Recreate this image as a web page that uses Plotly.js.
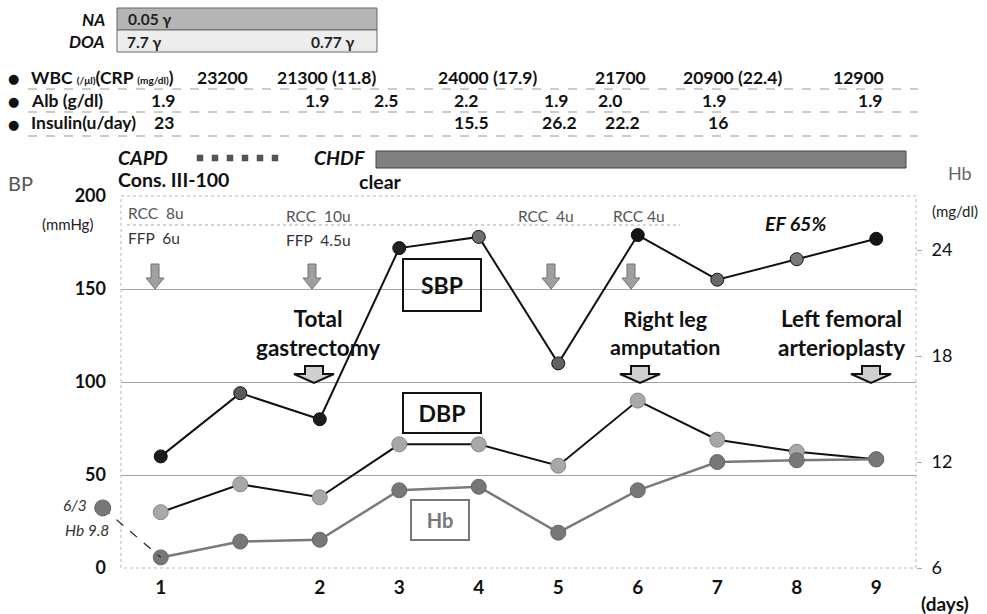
<!DOCTYPE html>
<html>
<head>
<meta charset="utf-8">
<script src="https://cdn.plot.ly/plotly-3.0.1.min.js"></script>
<style>html,body{margin:0;padding:0;background:#fff;}#chart{width:987px;height:614px;}</style>
</head>
<body>
<div id="chart"></div>
<script>
// ---------------- data ----------------
const dayPos = [0, 1, 2, 3, 4, 5, 6, 7, 8, 9];        // measurement slots (slot 1 is between day 1 and day 2)
const dayTickPos = [0, 2, 3, 4, 5, 6, 7, 8, 9];
const dayTickText = ['1', '2', '3', '4', '5', '6', '7', '8', '9'];
const sbp = [60, 94, 80, 172, 178, 110, 179, 155, 166, 177];
const dbp = [30, 45, 38, 66.5, 66.5, 55, 90, 69, 62.5, 58.5];
const hb  = [6.6, 7.5, 7.6, 10.4, 10.6, 8.0, 10.4, 12.0, 12.1, 12.15];
const preHbPos = -0.73;   // 6/3 measurement, left of the axis
const preHb = 9.4;
const sbpMarkerColors = ['#1a1a1a', '#5a5a5a', '#1e1e1e', '#222222', '#6e6e6e', '#626262', '#151515', '#6a6a6a', '#7a7a7a', '#151515'];

const wbcTexts = ['23200', '21300 (11.8)', '24000 (17.9)', '21700', '20900 (22.4)', '12900'];
const albTexts = ['1.9', '1.9', '2.5', '2.2', '1.9', '2.0', '1.9', '1.9'];
const insulinTexts = ['23', '15.5', '26.2', '22.2', '16'];

// ---------------- layout helpers (pixel -> paper) ----------------
const W = 987, H = 614, L = 40, R = 71, T = 196, B = 46;
const pw = W - L - R, ph = H - T - B;
const X = px => (px - L) / pw;
const Y = py => (H - B - py) / ph;
const plotLeft = 121, plotRight = 916;
const unitPx = (plotRight - plotLeft) / 10;
const x3min = -0.5 - (plotLeft - L) / unitPx;
const y2max = 6 + 21.06;

const FONT = 'Lato, "Open Sans", sans-serif';
function ann(text, px, py, size, color, xa, extra) {
  return Object.assign({
    xref: 'paper', yref: 'paper', x: X(px), y: Y(py), text: text, showarrow: false,
    xanchor: xa || 'center', yanchor: 'middle',
    font: {family: FONT, size: size, color: color || '#111'}
  }, extra || {});
}

// positions of table texts (pixels)
const wbcX = [222, 326, 487, 620, 732, 858];
const albX = [163, 317, 386, 466, 556, 610, 714, 870];
const insX = [164, 471, 559, 622, 718];

const annotations = [];
// NA / DOA table
annotations.push(ann('<b><i>NA</i></b>', 107, 19, 17, '#111', 'right'));
annotations.push(ann('<b><i>DOA</i></b>', 107, 42, 17, '#111', 'right'));
annotations.push(ann('<b>0.05 γ</b>', 126, 19, 15.5, '#222', 'left'));
annotations.push(ann('<b>7.7 γ</b>', 125, 42, 15.5, '#222', 'left'));
annotations.push(ann('<b>0.77 γ</b>', 309, 42, 15.5, '#222', 'left'));
// rows
[78, 101, 125].forEach(y => annotations.push(ann('●', 13, y, 15, '#111', 'center', {font: {family: '"DejaVu Sans"', size: 13, color: '#111'}})));
annotations.push(ann('<b>WBC <span style="font-size:10px">(/μl)</span>(CRP <span style="font-size:10px">(mg/dl)</span>)</b>', 29, 77, 17.5, '#111', 'left'));
annotations.push(ann('<b>Alb (g/dl)</b>', 29, 100, 17.5, '#111', 'left'));
annotations.push(ann('<b>Insulin(u/day)</b>', 29, 123, 17.5, '#111', 'left'));
wbcTexts.forEach((t, i) => annotations.push(ann('<b>' + t + '</b>', wbcX[i], 77, 17.5, '#111')));
albTexts.forEach((t, i) => annotations.push(ann('<b>' + t + '</b>', albX[i], 100, 17.5, '#111')));
insulinTexts.forEach((t, i) => annotations.push(ann('<b>' + t + '</b>', insX[i], 123, 17.5, '#111')));
// dialysis
annotations.push(ann('<b><i>CAPD</i></b>', 116, 157, 19.5, '#111', 'left'));
annotations.push(ann('<b><i>CHDF</i></b>', 312, 157, 19.5, '#111', 'left'));
annotations.push(ann('<b>Cons. III-100</b>', 116, 179, 19.5, '#111', 'left'));
annotations.push(ann('<b>clear</b>', 357, 181, 19.5, '#111', 'left'));
// axis titles
annotations.push(ann('BP', 20, 183, 20, '#555'));
annotations.push(ann('(mmHg)', 67, 224, 15, '#222'));
annotations.push(ann('Hb', 960, 173, 18, '#666'));
annotations.push(ann('(mg/dl)', 955, 211, 15, '#222'));
annotations.push(ann('<b>(days)</b>', 945, 603, 19, '#111'));
// transfusions
const nb = '\u00a0';
annotations.push(ann('RCC' + nb + nb + '8u', 126, 213, 15.5, '#555', 'left'));
annotations.push(ann('FFP' + nb + nb + '6u', 126, 238, 15.5, '#333', 'left'));
annotations.push(ann('RCC' + nb + nb + '10u', 284, 216, 15.5, '#555', 'left'));
annotations.push(ann('FFP' + nb + nb + '4.5u', 284, 240, 15.5, '#333', 'left'));
annotations.push(ann('RCC' + nb + nb + '4u', 516, 216, 15.5, '#555', 'left'));
annotations.push(ann('RCC' + nb + '4u', 611, 216, 15.5, '#555', 'left'));
annotations.push(ann('<b><i>EF 65%</i></b>', 795, 223, 19.5, '#111'));
// surgeries
annotations.push(ann('<b>Total<br>gastrectomy</b>', 318, 333, 22.5, '#111'));
annotations.push(ann('<b>Right leg<br>amputation</b>', 665, 333, 21.5, '#111'));
annotations.push(ann('<b>Left femoral<br>arterioplasty</b>', 841, 333, 22.5, '#111'));
// series labels
annotations.push(ann('<b>SBP</b>', 442, 285, 23, '#111', 'center', {bordercolor: '#111', borderwidth: 2, width: 74, height: 48}));
annotations.push(ann('<b>DBP</b>', 442, 413, 23, '#111', 'center', {bordercolor: '#111', borderwidth: 2, width: 74, height: 36}));
annotations.push(ann('<b>Hb</b>', 440, 520, 20, '#777', 'center', {bordercolor: '#777', borderwidth: 2, width: 54, height: 36}));
// 6/3 label
annotations.push(ann('<i>6/3</i>', 89, 505, 15.5, '#333', 'right'));
annotations.push(ann('<i>Hb 9.8</i>', 111, 530, 15.5, '#333', 'right'));

// ---------------- shapes ----------------
const shapes = [];
function rect(x0, y0, x1, y1, fill, line, lw, dash) {
  shapes.push({type: 'rect', xref: 'paper', yref: 'paper', x0: X(x0), x1: X(x1), y0: Y(y0), y1: Y(y1),
    fillcolor: fill, line: {color: line, width: lw, dash: dash || 'solid'}, layer: 'below'});
}
function hline(x0, x1, y, color, dash) {
  shapes.push({type: 'line', xref: 'paper', yref: 'paper', x0: X(x0), x1: X(x1), y0: Y(y), y1: Y(y),
    line: {color: color, width: 1, dash: dash}});
}
rect(117, 8, 377, 30, '#b5b5b5', '#666', 1);
rect(117, 30, 377, 52, '#ededed', '#666', 1);
rect(376, 151, 906, 168, '#808080', '#444', 1);
hline(28, 918, 89, '#999', 'dash');
hline(28, 918, 112, '#999', 'dash');
hline(28, 918, 136, '#999', 'dash');
hline(127, 680, 225, '#aaa', 'dot');
rect(plotLeft, 196, plotRight, 568, 'rgba(0,0,0,0)', '#b8b8b8', 1, 'dot');
// CAPD dotted line made of small squares
[200, 215, 230, 245, 260, 275].forEach(cx => rect(cx - 3, 155, cx + 3, 161, '#555', '#444', 0.5));

function arrowShape(cx, ty, path, fill, line, lw) {
  shapes.push({type: 'path', xref: 'paper', yref: 'paper', xsizemode: 'pixel', ysizemode: 'pixel',
    xanchor: X(cx), yanchor: Y(ty), path: path, fillcolor: fill, line: {color: line, width: lw}, layer: 'above'});
}
const thinArrow = 'M -4,0 L 4,0 L 4,-14 L 9,-14 L 0,-25 L -9,-14 L -4,-14 Z';
const blockArrow = 'M -9,0 L 9,0 L 9,-8 L 20,-8 L 0,-17 L -20,-8 L -9,-8 Z';
[155, 312, 551, 631].forEach(cx => arrowShape(cx, 264, thinArrow, '#a0a0a0', '#707070', 1));
[314, 640, 871].forEach(cx => arrowShape(cx, 366, blockArrow, '#cfcfcf', '#111', 2));

// ---------------- traces ----------------
const traces = [
  {x: [preHbPos, dayPos[0]], y: [preHb, hb[0]], xaxis: 'x3', yaxis: 'y3', mode: 'lines',
   line: {color: '#222', width: 1.2, dash: 'dash'}, hoverinfo: 'skip'},
  {x: [preHbPos], y: [preHb], xaxis: 'x3', yaxis: 'y3', mode: 'markers', cliponaxis: false,
   marker: {size: 16, color: '#777', line: {color: '#666', width: 1}}},
  {x: dayPos, y: hb, xaxis: 'x', yaxis: 'y2', mode: 'lines+markers', name: 'Hb',
   line: {color: '#7a7a7a', width: 2.5}, marker: {size: 15, color: '#777', line: {color: '#666', width: 1}}},
  {x: dayPos, y: dbp, xaxis: 'x', yaxis: 'y', mode: 'lines+markers', name: 'DBP',
   line: {color: '#111', width: 2}, marker: {size: 15, color: '#a8a8a8', line: {color: '#888', width: 1}}},
  {x: dayPos, y: sbp, xaxis: 'x', yaxis: 'y', mode: 'lines+markers', name: 'SBP',
   line: {color: '#111', width: 2}, marker: {size: 13, color: sbpMarkerColors, line: {color: '#111', width: 1}}}
];

const layout = {
  width: W, height: H, margin: {l: L, r: R, t: T, b: B},
  paper_bgcolor: '#fff', plot_bgcolor: 'rgba(0,0,0,0)', showlegend: false,
  font: {family: FONT, color: '#111'},
  xaxis: {domain: [X(plotLeft), 1], range: [-0.5, 9.5], anchor: 'y', tickvals: dayTickPos, ticktext: dayTickText,
    showgrid: false, zeroline: false, showline: false, ticks: '', ticklabelstandoff: 6,
    tickfont: {family: FONT, size: 19, color: '#111', weight: 'bold'}},
  yaxis: {domain: [0, 1], range: [0, 200], tickvals: [0, 50, 100, 150, 200], anchor: 'x',
    showgrid: true, gridcolor: '#a3a3a3', gridwidth: 1, zeroline: false, showline: false, ticks: '', ticklabelstandoff: 14,
    tickfont: {family: FONT, size: 18, color: '#111', weight: 'bold'}},
  yaxis2: {overlaying: 'y', side: 'right', anchor: 'x', range: [6, y2max], tickvals: [6, 12, 18, 24],
    showgrid: false, zeroline: false, showline: false, ticks: 'outside', ticklen: 5, tickcolor: '#aaa',
    ticklabelstandoff: 6, tickfont: {family: FONT, size: 18, color: '#111'}},
  xaxis3: {domain: [0, 1], range: [x3min, 9.5], anchor: 'y3', visible: false},
  yaxis3: {domain: [0, 1], range: [6, y2max], anchor: 'x3', visible: false},
  annotations: annotations, shapes: shapes
};

Plotly.newPlot('chart', traces, layout, {displayModeBar: false, staticPlot: true});
</script>
</body>
</html>
